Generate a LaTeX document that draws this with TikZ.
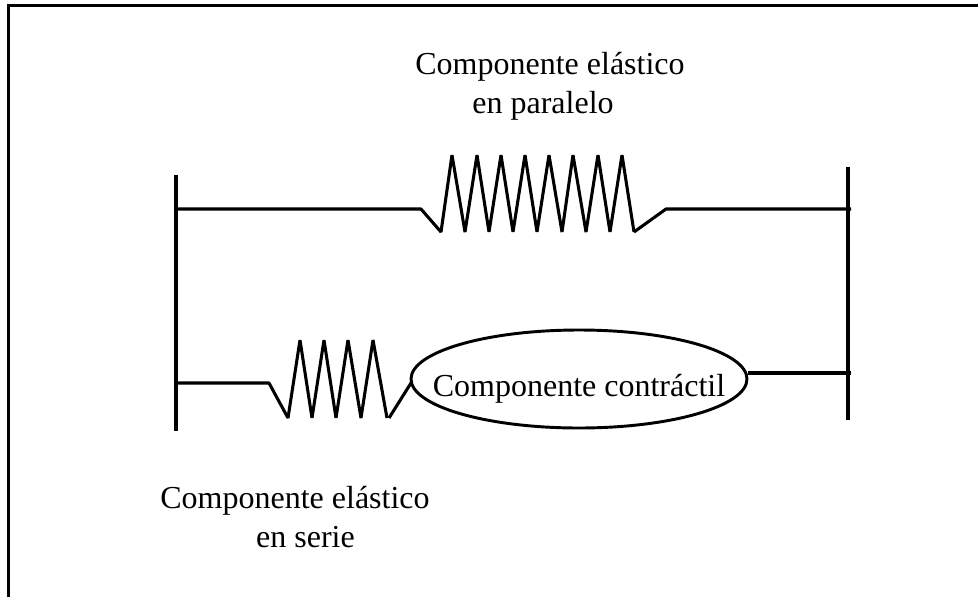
\documentclass[tikz,border=0pt]{standalone}
\usepackage{fontspec}
\setmainfont{Liberation Serif}
\usetikzlibrary{positioning, shapes.geometric}
\begin{document}
\begin{tikzpicture}[
    x=0.75pt, y=-0.75pt,
    every node/.style={font=\fontsize{24pt}{29pt}\selectfont},
    wire/.style ={line width=2.3pt, draw=black, line join=bevel},
    frameline/.style={line width=2.5pt, draw=black},
    label/.style={inner sep=0pt, anchor=base},
    muscle/.style={ellipse, draw=black, line width=2.2pt, inner sep=0pt, text height=25.5pt, text depth=0pt, minimum width=252pt, minimum height=73.5pt}
]
\useasboundingbox (0,0) rectangle (978,597);
% open frame
\coordinate (frameA) at (8.5,597);
\coordinate (frameB) at (8.5,5.5);
\coordinate (frameC) at (978,5.5);
\draw[frameline] (frameA) -- (frameB) -- (frameC);
% bars
\coordinate (barLT) at (176,175);
\coordinate (barLB) at (176,431);
\coordinate (barRT) at (848,167);
\coordinate (barRB) at (848,420);
\draw[wire] (barLT) -- (barLB);
\draw[wire] (barRT) -- (barRB);
% parallel spring
\coordinate (parIn) at (176,209);
\coordinate (parA) at (421,209);
\coordinate (parB) at (441,232);
\coordinate (parC) at (634,232);
\coordinate (parD) at (666,209);
\coordinate (parOut) at (851,209);
\draw[wire] (parIn) -- (parA) -- (parB)
  \foreach \xt/\xb in {452/465,477/489,501/513,525/537,549/562,573/586,598/610,622/634} {
    -- (\xt,155) -- (\xb,232)
  };
\draw[wire] (parC) -- (parD) -- (parOut);
% series spring
\coordinate (serIn) at (176,383);
\coordinate (serA) at (269,383);
\coordinate (serB) at (288,418);
\coordinate (serC) at (389,418);
\draw[wire] (serIn) -- (serA) -- (serB)
  \foreach \xt/\xb in {300/312,324/336,348/361,373/387} {
    -- (\xt,340) -- (\xb,418)
  };
\node[muscle] (contractil) at (579,379) {\makebox[0pt]{Componente contráctil}};
\coordinate (serD) at (411,383);
\coordinate (conOut) at (851,373);
\draw[wire] (serC) -- (serD);
\draw[wire] (contractil.east |- conOut) -- (conOut);
% labels
\node[label] (parTitle) at (550,74) {Componente elástico};
\node[label] (parSub) at (543,113) {en paralelo};
\node[label] (serTitle) at (295,508) {Componente elástico};
\node[label] (serSub) at (305.5,547) {en serie};
\end{tikzpicture}
\end{document}
